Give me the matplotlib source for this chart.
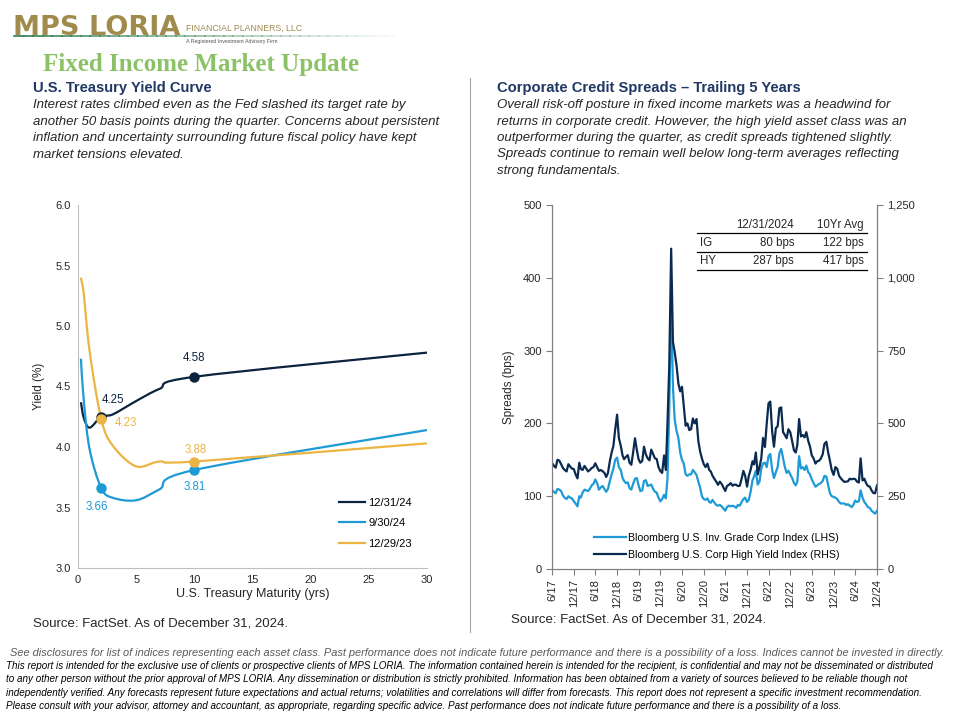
import numpy as np
import matplotlib
matplotlib.use("Agg")
import matplotlib.pyplot as plt
from matplotlib.path import Path
from matplotlib.patches import PathPatch
from matplotlib.lines import Line2D
from matplotlib.ticker import FuncFormatter

# ---------------- data: treasury yield curve ----------------
maturities = [0.25, 0.5, 1, 2, 3, 5, 7, 10, 30]
yld_dec24 = [4.37, 4.24, 4.16, 4.25, 4.27, 4.38, 4.48, 4.58, 4.78]
yld_sep24 = [4.73, 4.38, 3.98, 3.66, 3.58, 3.56, 3.65, 3.81, 4.14]
yld_dec23 = [5.40, 5.26, 4.79, 4.23, 4.01, 3.84, 3.88, 3.88, 4.03]
curve_labels = ["12/31/24", "9/30/24", "12/29/23"]
marked_maturities = [2, 10]

# ---------------- data: credit spreads (semi-monthly) ----------------
# 2017: Jun-end, then (mid, end) for Jul..Dec; other years (mid, end) for Jan..Dec
ig_2017 = [109, 106, 104, 110, 109, 107, 101, 98, 96, 100, 98, 97, 93]
ig_2018 = [90, 86, 100, 98, 105, 109, 108, 107, 110, 115, 117, 123,
           118, 109, 112, 114, 110, 106, 110, 121, 130, 138, 150, 153]
ig_2019 = [140, 136, 125, 121, 118, 119, 111, 109, 117, 124, 125, 115,
           107, 108, 121, 122, 114, 115, 116, 110, 106, 105, 98, 93]
ig_2020 = [96, 102, 97, 125, 220, 373, 250, 205, 190, 180, 160, 150,
           145, 130, 128, 130, 130, 136, 133, 129, 120, 112, 100, 96]
ig_2021 = [95, 97, 92, 91, 95, 91, 88, 87, 88, 86, 83, 80,
           85, 87, 86, 87, 86, 84, 88, 87, 92, 96, 98, 92]
ig_2022 = [95, 107, 122, 127, 135, 116, 120, 138, 145, 146, 140, 155,
           158, 136, 125, 133, 140, 159, 165, 152, 140, 132, 135, 130]
ig_2023 = [125, 118, 115, 120, 155, 138, 140, 136, 142, 133, 130, 123,
           118, 113, 115, 117, 118, 121, 128, 127, 115, 104, 100, 99]
ig_2024 = [98, 96, 92, 90, 90, 90, 88, 89, 87, 85, 88, 94,
           92, 93, 108, 98, 92, 89, 85, 84, 80, 78, 76, 80]

hy_2017 = [364, 355, 348, 375, 372, 360, 347, 340, 335, 360, 352, 345, 343]
hy_2018 = [325, 311, 365, 344, 340, 354, 345, 335, 340, 347, 350, 363,
           350, 337, 340, 336, 330, 316, 330, 371, 400, 423, 480, 530]
hy_2019 = [450, 423, 390, 377, 385, 391, 365, 358, 400, 449, 410, 377,
           365, 371, 420, 393, 380, 373, 410, 394, 380, 378, 350, 336]
hy_2020 = [330, 390, 340, 500, 700, 1100, 780, 744, 700, 637, 610, 626,
           560, 492, 500, 477, 480, 517, 500, 515, 440, 404, 380, 360]
hy_2021 = [350, 362, 340, 335, 320, 310, 300, 289, 300, 292, 280, 268,
           285, 289, 295, 286, 290, 289, 285, 286, 310, 337, 320, 283]
hy_2022 = [320, 342, 370, 359, 400, 325, 350, 380, 450, 419, 500, 569,
           575, 471, 420, 484, 490, 552, 555, 470, 460, 449, 480, 469]
hy_2023 = [440, 407, 400, 426, 515, 455, 460, 452, 470, 440, 420, 390,
           380, 362, 370, 372, 380, 394, 430, 437, 400, 372, 340, 323]
hy_2024 = [350, 344, 320, 312, 305, 299, 300, 301, 310, 308, 310, 309,
           300, 297, 380, 304, 310, 295, 285, 283, 270, 261, 260, 287]

ig_spread = ig_2017 + ig_2018 + ig_2019 + ig_2020 + ig_2021 + ig_2022 + ig_2023 + ig_2024
hy_spread = hy_2017 + hy_2018 + hy_2019 + hy_2020 + hy_2021 + hy_2022 + hy_2023 + hy_2024

spread_tick_labels = ["6/17", "12/17", "6/18", "12/18", "6/19", "12/19", "6/20", "12/20",
                      "6/21", "12/21", "6/22", "12/22", "6/23", "12/23", "6/24", "12/24"]
table_rows = [["", "12/31/2024", "10Yr Avg"],
              ["IG", "80 bps", "122 bps"],
              ["HY", "287 bps", "417 bps"]]
spread_labels = ["Bloomberg U.S. Inv. Grade Corp Index (LHS)",
                 "Bloomberg U.S. Corp High Yield Index (RHS)"]

# dates
months = np.arange('2017-07', '2025-01', dtype='datetime64[M]')
mids = months.astype('datetime64[D]') + np.timedelta64(14, 'D')
ends = (months + 1).astype('datetime64[D]') - np.timedelta64(1, 'D')
dates = np.concatenate([[np.datetime64('2017-06-30')], np.column_stack([mids, ends]).ravel()])
tick_months = np.arange('2017-06', '2025-01', 6, dtype='datetime64[M]')
tick_dates = (tick_months + 1).astype('datetime64[D]') - np.timedelta64(1, 'D')

# ---------------- style ----------------
NAVY = "#0C2340"
BLUE = "#1E9AD6"
GOLD = "#EBB443"
GRAY_AX = "#BFBFBF"
FONT = ["Liberation Sans", "DejaVu Sans"]
plt.rcParams['font.family'] = FONT

fig = plt.figure(figsize=(9.6, 7.2), dpi=100)
fig.patch.set_facecolor("white")

def fx(px):
    return px / 960.0

def fy(py):
    return 1 - py / 720.0

# ---------------- header / logo ----------------
nseg = 40
xs = np.linspace(fx(14), fx(395), nseg + 1)
for i in range(nseg):
    fig.add_artist(Line2D([xs[i], xs[i + 1]], [fy(36), fy(36)], color="#2E7D4F",
                          lw=1.2, alpha=max(0.05, 1 - i / nseg)))
fig.text(fx(13), fy(28), "MPS LORIA", fontsize=19.5, fontweight="bold", color="#A08A4C",
         va="center", ha="left", family=["DejaVu Sans"])
fig.text(fx(186), fy(28), "FINANCIAL PLANNERS, LLC", fontsize=6.3, color="#9C8A55",
         va="center", ha="left")
fig.text(fx(186), fy(42), "A Registered Investment Advisory Firm", fontsize=3.8, color="#555555",
         va="center", ha="left")
fig.text(fx(43), fy(65), "Fixed Income Market Update", fontsize=18, fontweight="bold",
         color="#8CC267", family=["Liberation Serif", "DejaVu Serif"], va="center", ha="left")

# section headers
fig.text(fx(33), fy(88), "U.S. Treasury Yield Curve", fontsize=10.6, fontweight="bold",
         color="#1F3864", va="center")
fig.text(fx(33), fy(99), "Interest rates climbed even as the Fed slashed its target rate by\n"
         "another 50 basis points during the quarter. Concerns about persistent\n"
         "inflation and uncertainty surrounding future fiscal policy have kept\n"
         "market tensions elevated.", fontsize=9.5, style="italic", color="#262626",
         va="top", linespacing=1.5)
fig.text(fx(497), fy(88), "Corporate Credit Spreads \u2013 Trailing 5 Years", fontsize=10.6,
         fontweight="bold", color="#1F3864", va="center")
fig.text(fx(497), fy(99), "Overall risk-off posture in fixed income markets was a headwind for\n"
         "returns in corporate credit. However, the high yield asset class was an\n"
         "outperformer during the quarter, as credit spreads tightened slightly.\n"
         "Spreads continue to remain well below long-term averages reflecting\n"
         "strong fundamentals.", fontsize=9.5, style="italic", color="#262626",
         va="top", linespacing=1.5)

# divider
fig.add_artist(Line2D([fx(470), fx(470)], [fy(78), fy(632)], color="#A6A6A6", lw=0.8))

# ---------------- left chart ----------------
ax1 = fig.add_axes([fx(78), fy(568), fx(427) - fx(78), fy(205) - fy(568)])

def smooth_path(x, y):
    pts = np.column_stack([x, y]).astype(float)
    n = len(pts)
    verts = [pts[0]]
    codes = [Path.MOVETO]
    for i in range(n - 1):
        p0 = pts[i - 1] if i > 0 else pts[i]
        p1 = pts[i]
        p2 = pts[i + 1]
        p3 = pts[i + 2] if i + 2 < n else pts[i + 1]
        c1 = p1 + (p2 - p0) / 6.0
        c2 = p2 - (p3 - p1) / 6.0
        verts += [c1, c2, p2]
        codes += [Path.CURVE4] * 3
    return Path(verts, codes)

series = [(yld_dec24, NAVY), (yld_sep24, BLUE), (yld_dec23, GOLD)]
handles = []
for (vals, col), lab in zip(series, curve_labels):
    patch = PathPatch(smooth_path(maturities, vals), facecolor="none", edgecolor=col, lw=1.6)
    ax1.add_patch(patch)
    mx = [m for m in maturities if m in marked_maturities]
    my = [v for m, v in zip(maturities, vals) if m in marked_maturities]
    ax1.plot(mx, my, "o", color=col, ms=6.5, zorder=5)
    handles.append(Line2D([], [], color=col, lw=1.6, label=lab))

# data labels
lab_fs = 8.3
ax1.annotate(f"{yld_dec24[7]:.2f}", (10, yld_dec24[7]), xytext=(0, 9), textcoords="offset points",
             ha="center", va="bottom", color=NAVY, fontsize=lab_fs)
ax1.annotate(f"{yld_dec24[3]:.2f}", (2, yld_dec24[3]), xytext=(0, 8), textcoords="offset points",
             ha="left", va="bottom", color=NAVY, fontsize=lab_fs)
ax1.annotate(f"{yld_dec23[3]:.2f}", (2, yld_dec23[3]), xytext=(10, -3), textcoords="offset points",
             ha="left", va="center", color=GOLD, fontsize=lab_fs)
ax1.annotate(f"{yld_dec23[7]:.2f}", (10, yld_dec23[7]), xytext=(1, 4), textcoords="offset points",
             ha="center", va="bottom", color=GOLD, fontsize=lab_fs)
ax1.annotate(f"{yld_sep24[7]:.2f}", (10, yld_sep24[7]), xytext=(0, -8), textcoords="offset points",
             ha="center", va="top", color=BLUE, fontsize=lab_fs)
ax1.annotate(f"{yld_sep24[3]:.2f}", (2, yld_sep24[3]), xytext=(-3, -9), textcoords="offset points",
             ha="center", va="top", color=BLUE, fontsize=lab_fs)

ax1.set_xlim(0, 30)
ax1.set_ylim(3.0, 6.0)
ax1.set_xticks(np.arange(0, 31, 5))
ax1.set_yticks(np.arange(3.0, 6.01, 0.5))
ax1.yaxis.set_major_formatter(FuncFormatter(lambda v, p: f"{v:.1f}"))
for s in ["top", "right"]:
    ax1.spines[s].set_visible(False)
for s in ["left", "bottom"]:
    ax1.spines[s].set_color(GRAY_AX)
ax1.tick_params(length=0, labelsize=8, colors="#262626", pad=5)
ax1.set_xlabel("U.S. Treasury Maturity (yrs)", fontsize=9, color="#262626", labelpad=2)
ax1.set_ylabel("Yield (%)", fontsize=8.5, color="#262626", labelpad=8)
ax1.legend(handles=handles, loc="lower left", bbox_to_anchor=(0.72, 0.025), frameon=False,
           fontsize=8, handlelength=2.3, handletextpad=0.3, labelspacing=0.95)

fig.text(fx(33), fy(624), "Source: FactSet. As of December 31, 2024.", fontsize=9.5,
         color="#262626", va="center")

# ---------------- right chart ----------------
ax2 = fig.add_axes([fx(552), fy(569), fx(877) - fx(552), fy(205) - fy(569)])
ax3 = ax2.twinx()
l1, = ax2.plot(dates, ig_spread, color=BLUE, lw=1.6, label=spread_labels[0])
l2, = ax3.plot(dates, hy_spread, color="#0A2A50", lw=1.6, label=spread_labels[1])
ax2.set_xlim(tick_dates[0], tick_dates[-1])
ax2.set_ylim(0, 500)
ax3.set_ylim(0, 1250)
ax2.set_yticks(np.arange(0, 501, 100))
ax3.set_yticks(np.arange(0, 1251, 250))
ax3.yaxis.set_major_formatter(FuncFormatter(lambda v, p: f"{v:,.0f}"))
ax2.set_xticks(tick_dates)
ax2.set_xticklabels(spread_tick_labels, rotation=90, fontsize=8)
for a in (ax2, ax3):
    a.spines["top"].set_visible(False)
    for s in ["left", "right", "bottom"]:
        a.spines[s].set_color("#7F7F7F")
    a.tick_params(labelsize=8, colors="#262626", length=4, width=0.8)
    a.tick_params(axis="both", color="#7F7F7F")
ax2.set_ylabel("Spreads (bps)", fontsize=8.5, color="#262626", labelpad=6)
ax3.legend(handles=[l1, l2], loc="lower left", bbox_to_anchor=(0.1, 0.0), frameon=False,
           fontsize=7.6, handlelength=3.0, handletextpad=0.2, labelspacing=0.6)

# table
col_x = [0.455, 0.745, 0.96]
row_y = [0.945, 0.895, 0.845]
for r, (row, yy) in enumerate(zip(table_rows, row_y)):
    for c, (txt, xx) in enumerate(zip(row, col_x)):
        ax3.text(xx, yy, txt, transform=ax2.transAxes, fontsize=8.3, color="#262626",
                 ha="left" if c == 0 else "right", va="center")
for yy in [0.922, 0.872, 0.822]:
    ax3.plot([0.445, 0.968], [yy, yy], transform=ax2.transAxes, color="black", lw=0.9,
             clip_on=False)

fig.text(fx(511), fy(619), "Source: FactSet. As of December 31, 2024.", fontsize=9.5,
         color="#262626", va="center")

# ---------------- footer ----------------
fig.text(fx(10), fy(653), "See disclosures for list of indices representing each asset class. "
         "Past performance does not indicate future performance and there is a possibility of a loss. "
         "Indices cannot be invested in directly.", fontsize=7.95, style="italic",
         color="#595959", va="center")
footer = ("This report is intended for the exclusive use of clients or prospective clients of MPS LORIA. "
          "The information contained herein is intended for the recipient, is confidential and may not be disseminated or distributed\n"
          "to any other person without the prior approval of MPS LORIA. Any dissemination or distribution is strictly prohibited. "
          "Information has been obtained from a variety of sources believed to be reliable though not\n"
          "independently verified. Any forecasts represent future expectations and actual returns; volatilities and "
          "correlations will differ from forecasts. This report does not represent a specific investment recommendation.\n"
          "Please consult with your advisor, attorney and accountant, as appropriate, regarding specific advice. "
          "Past performance does not indicate future performance and there is a possibility of a loss.")
fig.text(fx(6), fy(661), footer, fontsize=7.1, style="italic", color="black", va="top",
         linespacing=1.42)

fig.savefig("out.png", dpi=100, facecolor="white")
